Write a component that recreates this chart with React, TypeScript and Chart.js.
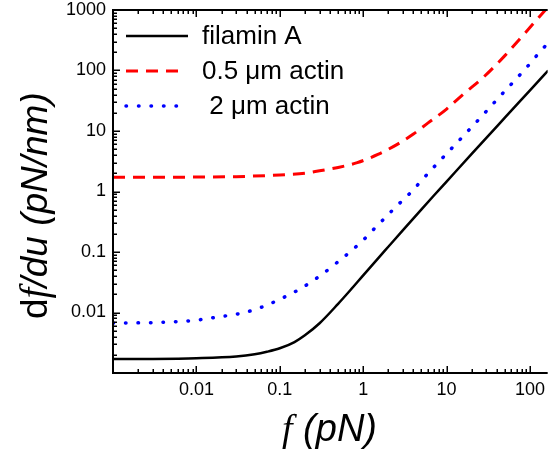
import React, { useEffect, useRef } from "react";
import { Chart, registerables } from "chart.js";

Chart.register(...registerables);

// Force f (pN) against stiffness df/du (pN/nm)
const filaminForce = [0.001, 0.003, 0.01, 0.03, 0.05, 0.07, 0.1, 0.15, 0.2, 0.3, 0.5, 0.7, 1, 1.5, 2, 3, 5, 7, 10, 20, 50, 100, 165];
const filaminStiffness = [0.0017, 0.00171, 0.00176, 0.00188, 0.00204, 0.00224, 0.00256, 0.00325, 0.0042, 0.00665, 0.0139, 0.0233, 0.0411, 0.0778, 0.122, 0.23, 0.508, 0.85, 1.46, 4.18, 16.6, 47, 99.8];

const actin05Force = [0.001, 0.003, 0.01, 0.03, 0.1, 0.2, 0.3, 0.5, 0.85, 1.5, 2.5, 4, 6, 10, 16, 27, 50, 88, 143, 165];
const actin05Stiffness = [1.72, 1.72, 1.73, 1.76, 1.88, 2.0, 2.2, 2.5, 3.0, 4.1, 5.9, 8.9, 13.6, 23, 41, 75, 176, 422, 902, 1120];

const actin2Force = [0.001, 0.003, 0.005, 0.0074, 0.011, 0.02, 0.028, 0.039, 0.06, 0.1, 0.18, 0.3, 0.5, 0.75, 1, 1.3, 1.85, 2.5, 3.4, 6.4, 12.3, 24, 46, 91, 124, 165];
const actin2Stiffness = [0.0067, 0.0068, 0.007, 0.0072, 0.0076, 0.0086, 0.0092, 0.0101, 0.0122, 0.0165, 0.0251, 0.04, 0.069, 0.11, 0.157, 0.228, 0.373, 0.57, 0.85, 2.2, 5.7, 15.2, 40.5, 112, 185, 285];

const xTickLabels = ["0.01", "0.1", "1", "10", "100"];
const yTickLabels = ["0.01", "0.1", "1", "10", "100", "1000"];
const seriesNames = ["filamin A", "0.5 \u03bcm actin", " 2 \u03bcm actin"];

const X_MIN = 0.001;
const X_MAX = 163;
const Y_MIN = 0.001;
const Y_MAX = 1000;

const SANS = '"Liberation Sans", Arial, sans-serif';
const SERIF = '"Liberation Serif", "Times New Roman", serif';

const RED_DASH = [12, 8];
const BLUE_DOT = [0.5, 12];

// every 1..9 x 10^n value between min and max, for log-axis tick marks
function logTicks(min: number, max: number): number[] {
  const out: number[] = [];
  for (let e = Math.floor(Math.log10(min)); e <= Math.ceil(Math.log10(max)); e++) {
    for (let m = 1; m <= 9; m++) {
      const v = parseFloat((m * Math.pow(10, e)).toPrecision(6));
      if (v >= min * 0.9999 && v <= max * 1.0001) out.push(v);
    }
  }
  return out;
}

function labelFor(v: number, labels: string[]): string {
  const hit = labels.find((l) => Math.abs(parseFloat(l) - v) / v < 1e-6);
  return hit ?? "";
}

function isDecade(v: number): boolean {
  const l = Math.log10(v);
  return Math.abs(l - Math.round(l)) < 1e-6;
}

function drawRuns(ctx: CanvasRenderingContext2D, runs: [string, string][], x: number, y: number) {
  let cx = x;
  for (const [text, font] of runs) {
    ctx.font = font;
    ctx.fillText(text, cx, y);
    cx += ctx.measureText(text).width;
  }
}

const framePlugin = {
  id: "frame",
  afterDatasetsDraw(chart: any) {
    const { ctx, chartArea: a, scales } = chart;
    const xs = scales.x;
    const ys = scales.y;
    ctx.save();
    ctx.strokeStyle = "#000";
    ctx.fillStyle = "#000";

    // axis lines: left, bottom and top
    ctx.lineWidth = 2;
    ctx.beginPath();
    ctx.moveTo(a.left, a.top);
    ctx.lineTo(a.left, a.bottom);
    ctx.moveTo(a.left - 1, a.bottom);
    ctx.lineTo(a.right, a.bottom);
    ctx.moveTo(a.left - 1, a.top);
    ctx.lineTo(a.right, a.top);
    ctx.stroke();

    // inward tick marks
    ctx.lineWidth = 1.5;
    ctx.beginPath();
    for (const v of logTicks(X_MIN, X_MAX)) {
      const px = Math.round(xs.getPixelForValue(v)) + 0.25;
      const len = isDecade(v) ? 7 : 4;
      ctx.moveTo(px, a.bottom);
      ctx.lineTo(px, a.bottom - len);
      ctx.moveTo(px, a.top);
      ctx.lineTo(px, a.top + len);
    }
    for (const v of logTicks(Y_MIN, Y_MAX)) {
      const py = Math.round(ys.getPixelForValue(v)) + 0.25;
      const len = isDecade(v) ? 7 : 4;
      ctx.moveTo(a.left, py);
      ctx.lineTo(a.left + len, py);
    }
    ctx.stroke();

    // legend
    const rows = [
      { y: 36, color: "#000", dash: [] as number[], width: 2.5, cap: "butt", x1: 188 },
      { y: 71, color: "#ff0000", dash: RED_DASH, width: 3, cap: "butt", x1: 180 },
      { y: 106, color: "#0000ff", dash: BLUE_DOT, width: 3.5, cap: "round", x1: 180 },
    ];
    rows.forEach((r, i) => {
      ctx.save();
      ctx.strokeStyle = r.color;
      ctx.lineWidth = r.width;
      ctx.lineCap = r.cap;
      ctx.setLineDash(r.dash);
      ctx.beginPath();
      ctx.moveTo(126, r.y);
      ctx.lineTo(r.x1, r.y);
      ctx.stroke();
      ctx.restore();
      ctx.font = `26px ${SANS}`;
      ctx.textBaseline = "middle";
      ctx.textAlign = "left";
      ctx.fillText(seriesNames[i], 202, r.y + 1);
    });

    // x title
    ctx.textBaseline = "alphabetic";
    drawRuns(
      ctx,
      [
        ["f", `italic 38px ${SERIF}`],
        [" (pN)", `italic 38px ${SANS}`],
      ],
      282,
      441
    );

    // y title
    ctx.save();
    ctx.translate(47, 319);
    ctx.rotate(-Math.PI / 2);
    drawRuns(
      ctx,
      [
        ["d", `37px ${SANS}`],
        ["f", `italic 39px ${SERIF}`],
        ["/du (pN/nm)", `italic 37px ${SANS}`],
      ],
      0,
      0
    );
    ctx.restore();

    ctx.restore();
  },
};

export default function App() {
  const canvasRef = useRef<HTMLCanvasElement | null>(null);

  useEffect(() => {
    const canvas = canvasRef.current;
    if (!canvas) return;
    const toPoints = (xs: number[], ys: number[]) => xs.map((x, i) => ({ x, y: ys[i] }));

    const chart = new Chart(canvas, {
      type: "line",
      data: {
        datasets: [
          {
            label: seriesNames[0],
            data: toPoints(filaminForce, filaminStiffness),
            borderColor: "#000000",
            borderWidth: 2.5,
            pointRadius: 0,
            cubicInterpolationMode: "monotone",
            clip: 0,
          },
          {
            label: seriesNames[1],
            data: toPoints(actin05Force, actin05Stiffness),
            borderColor: "#ff0000",
            borderWidth: 3,
            borderDash: RED_DASH,
            pointRadius: 0,
            cubicInterpolationMode: "monotone",
            clip: 0,
          },
          {
            label: seriesNames[2],
            data: toPoints(actin2Force, actin2Stiffness),
            borderColor: "#0000ff",
            borderWidth: 3.5,
            borderDash: BLUE_DOT,
            borderCapStyle: "round",
            pointRadius: 0,
            cubicInterpolationMode: "monotone",
            clip: 0,
          },
        ] as any,
      },
      options: {
        animation: false,
        responsive: false,
        devicePixelRatio: 1,
        layout: { padding: { top: 10, right: 0, left: 0, bottom: 0 } },
        plugins: {
          legend: { display: false },
          tooltip: { enabled: false },
          title: { display: false },
        },
        scales: {
          x: {
            type: "logarithmic",
            min: X_MIN,
            max: X_MAX,
            grid: { display: false, drawTicks: false },
            border: { display: false },
            afterBuildTicks: (scale: any) => {
              scale.ticks = logTicks(X_MIN, X_MAX).map((value) => ({ value }));
            },
            afterFit: (scale: any) => {
              scale.height = 81;
            },
            ticks: {
              autoSkip: false,
              maxRotation: 0,
              padding: 8,
              color: "#000",
              font: { family: SANS, size: 18, lineHeight: 1 },
              callback: (v: any) => labelFor(Number(v), xTickLabels),
            },
          },
          y: {
            type: "logarithmic",
            min: Y_MIN,
            max: Y_MAX,
            grid: { display: false, drawTicks: false },
            border: { display: false },
            afterBuildTicks: (scale: any) => {
              scale.ticks = logTicks(Y_MIN, Y_MAX).map((value) => ({ value }));
            },
            afterFit: (scale: any) => {
              scale.width = 113;
            },
            ticks: {
              autoSkip: false,
              padding: 7,
              color: "#000",
              font: { family: SANS, size: 18, lineHeight: 0.2 },
              callback: (v: any) => labelFor(Number(v), yTickLabels),
            },
          },
        },
      },
      plugins: [framePlugin],
    } as any);

    return () => chart.destroy();
  }, []);

  return (
    <div style={{ position: "absolute", left: 0, top: 0, width: 553, height: 454, background: "#fff" }}>
      <canvas ref={canvasRef} width={553} height={454} />
    </div>
  );
}
